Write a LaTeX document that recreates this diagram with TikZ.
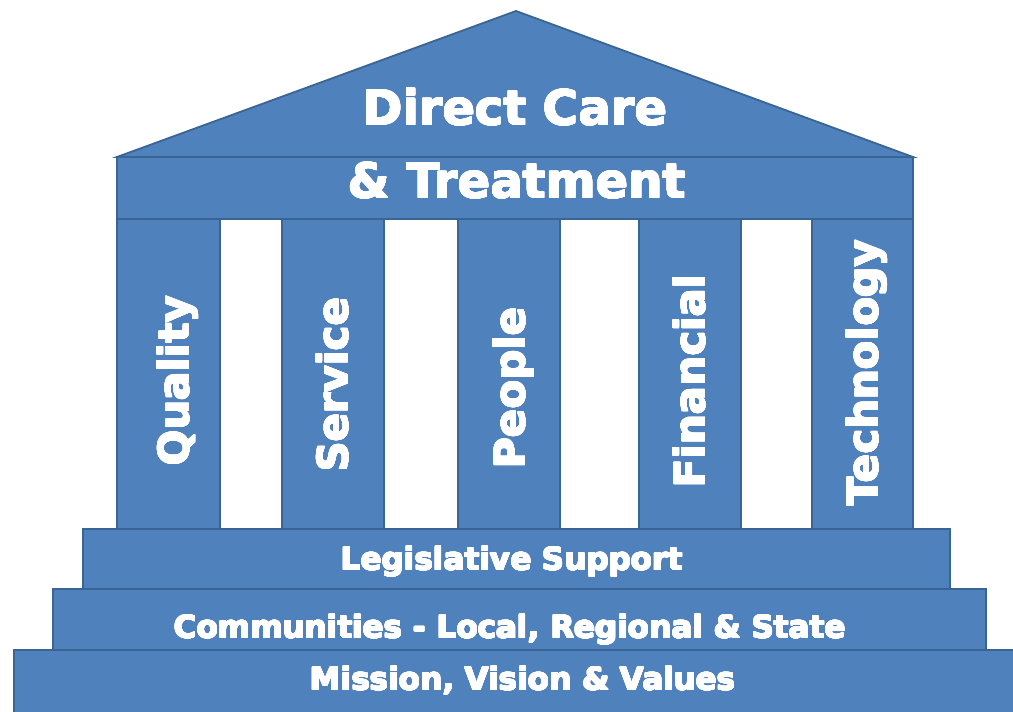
\documentclass[tikz,border=0pt]{standalone}
\usepackage{fontspec}
\setmainfont{DejaVu Sans}
\usepackage{contour}
\contourlength{0.55pt}
\contournumber{16}
\newcommand{\heavy}[1]{\contour{white}{#1}}
\definecolor{tblue}{HTML}{4F81BD}
\definecolor{tedge}{HTML}{3A6593}
\begin{document}
\begin{tikzpicture}[x=1pt,y=-1pt,
  part/.style={fill=tblue, draw=tedge, line width=1.8pt, line join=miter},
  bigtxt/.style={text=white, font=\bfseries\fontsize{48}{48}\selectfont, anchor=base, inner sep=0pt},
  coltxt/.style={text=white, font=\bfseries\fontsize{42}{42}\selectfont, anchor=base, rotate=90, inner sep=0pt},
  steptxt/.style={text=white, font=\bfseries\fontsize{31}{31}\selectfont, anchor=base, inner sep=0pt}]
\useasboundingbox (0,0) rectangle (1013,712);
\clip (0,0) rectangle (1013,712);
% roof and entablature
\draw[part] (117,157) -- (516,11) -- (913,157) -- cycle;
\draw[part] (117,157) rectangle (913,219);
% pillars
\draw[part] (117,219) rectangle (220,529);
\draw[part] (282,219) rectangle (384,529);
\draw[part] (458,219) rectangle (560,529);
\draw[part] (639,219) rectangle (741,529);
\draw[part] (812,219) rectangle (913,529);
% steps
\draw[part] (83,529) rectangle (950,589);
\draw[part] (53,589) rectangle (986,650);
\draw[part] (14,650) rectangle (1030,730);
% texts
\node[bigtxt] (t1) at (515,125) {\heavy{Direct Care}};
\node[bigtxt] (t2) at (517,198) {\heavy{\& Treatment}};
\node[coltxt] (c1) at (189,381) {\heavy{Quality}};
\node[coltxt] (c2) at (348,385) {\heavy{Service}};
\node[coltxt] (c3) at (525,388) {\heavy{People}};
\node[coltxt] (c4) at (705,381) {\heavy{Financial}};
\node[coltxt] (c5) at (878,373) {\heavy{Technology}};
\node[steptxt] (s1) at (512,570) {\heavy{Legislative Support}};
\node[steptxt] (s2) at (510,638) {\heavy{Communities - Local, Regional \& State}};
\node[steptxt] (s3) at (523,690) {\heavy{Mission, Vision \& Values}};
\end{tikzpicture}
\end{document}
